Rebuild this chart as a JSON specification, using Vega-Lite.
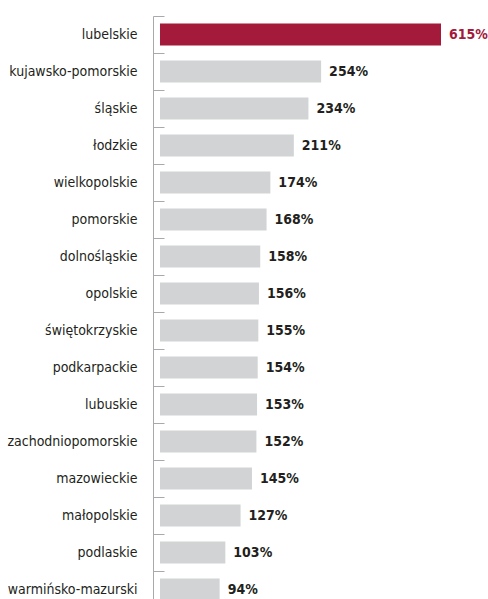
{
  "$schema": "https://vega.github.io/schema/vega-lite/v6.json",
  "autosize": {"type": "none"},
  "padding": {"left": 160, "top": 16, "right": 47, "bottom": 0},
  "width": 281,
  "height": 592,
  "background": "white",
  "config": {"view": {"stroke": null}, "font": "DejaVu Sans Condensed, Roboto"},
  "data": {
    "values": [
      {"region": "lubelskie", "value": 6.15},
      {"region": "kujawsko-pomorskie", "value": 2.54},
      {"region": "śląskie", "value": 2.34},
      {"region": "łodzkie", "value": 2.11},
      {"region": "wielkopolskie", "value": 1.74},
      {"region": "pomorskie", "value": 1.68},
      {"region": "dolnośląskie", "value": 1.58},
      {"region": "opolskie", "value": 1.56},
      {"region": "świętokrzyskie", "value": 1.55},
      {"region": "podkarpackie", "value": 1.54},
      {"region": "lubuskie", "value": 1.53},
      {"region": "zachodniopomorskie", "value": 1.52},
      {"region": "mazowieckie", "value": 1.45},
      {"region": "małopolskie", "value": 1.27},
      {"region": "podlaskie", "value": 1.03},
      {"region": "warmińsko-mazurski", "value": 0.94}
    ]
  },
  "encoding": {
    "y": {
      "field": "region",
      "type": "nominal",
      "sort": null,
      "scale": {"paddingInner": 0, "paddingOuter": 0},
      "axis": {
        "title": null,
        "offset": 7,
        "bandPosition": 0,
        "tickSize": -11,
        "domainColor": "#A7A9AC",
        "tickColor": "#A7A9AC",
        "labelFont": "DejaVu Sans Condensed, Roboto",
        "labelFontSize": 14,
        "labelColor": "#231F20",
        "labelPadding": 27
      }
    },
    "x": {
      "field": "value",
      "type": "quantitative",
      "scale": {"domain": [0, 4.43], "clamp": true},
      "axis": null
    }
  },
  "layer": [
    {
      "mark": {"type": "bar", "height": {"band": 0.6}},
      "encoding": {
        "color": {
          "condition": {"test": "datum.region === 'lubelskie'", "value": "#A31A3A"},
          "value": "#D1D3D4"
        }
      }
    },
    {
      "mark": {"type": "text", "align": "left", "baseline": "middle", "dx": 8, "fontWeight": "bold", "fontSize": 14, "font": "DejaVu Sans Condensed, Roboto"},
      "encoding": {
        "text": {"field": "value", "type": "quantitative", "format": ".0%"},
        "color": {
          "condition": {"test": "datum.region === 'lubelskie'", "value": "#A31A3A"},
          "value": "#231F20"
        }
      }
    }
  ]
}
